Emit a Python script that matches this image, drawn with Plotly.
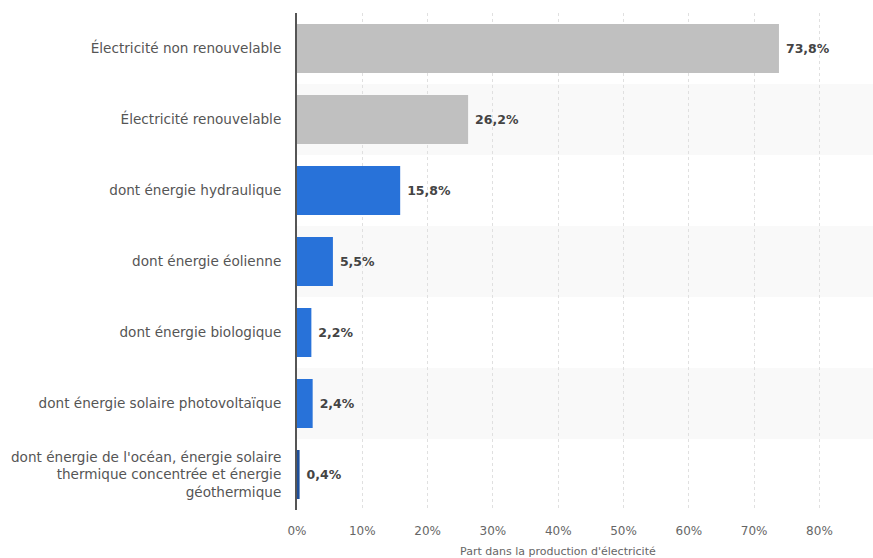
import plotly.graph_objects as go

# Share of electricity production by source
categories = [
    "Électricité non renouvelable",
    "Électricité renouvelable",
    "dont énergie hydraulique",
    "dont énergie éolienne",
    "dont énergie biologique",
    "dont énergie solaire photovoltaïque",
    "dont énergie de l'océan, énergie solaire<br>thermique concentrée et énergie<br>géothermique",
]
shares = [73.8, 26.2, 15.8, 5.5, 2.2, 2.4, 0.4]
bar_colors = ["#c0c0c0", "#c0c0c0", "#2872d9", "#2872d9", "#2872d9", "#2872d9", "#1f4f9a"]
x_ticks = [0, 10, 20, 30, 40, 50, 60, 70, 80]

FONT = "DejaVu Sans, sans-serif"

fig = go.Figure()
fig.add_trace(go.Bar(
    x=shares,
    y=list(range(len(categories))),
    orientation="h",
    marker=dict(color=bar_colors, line=dict(width=0)),
    width=0.69,
    texttemplate="&nbsp;<b>%{x:.1f}%</b>",
    textposition="outside",
    cliponaxis=False,
    textfont=dict(family=FONT, size=12.5, color="#444444"),
    hoverinfo="skip",
))

# alternating light row bands
shapes = []
for i in range(len(categories)):
    if i % 2 == 1:
        shapes.append(dict(
            type="rect", xref="x domain", yref="y",
            x0=0, x1=1, y0=i - 0.5, y1=i + 0.5,
            fillcolor="#f9f9f9", line=dict(width=0), layer="below",
        ))

fig.update_layout(
    width=873, height=558,
    margin=dict(l=297, r=0, t=13, b=48),
    paper_bgcolor="white",
    plot_bgcolor="rgba(0,0,0,0)",
    separators=", ",
    showlegend=False,
    shapes=shapes,
    font=dict(family=FONT, size=12, color="#555555"),
    xaxis=dict(
        range=[0, 88.2],
        tickvals=x_ticks,
        ticktext=[f"{v}%" for v in x_ticks],
        showgrid=True, gridcolor="#e0e0e0", griddash="dot", gridwidth=1,
        zeroline=False, showline=False,
        tickfont=dict(family=FONT, size=12, color="#666666"),
        ticklabelstandoff=12,
    ),
    yaxis=dict(
        range=[len(categories) - 0.5, -0.5],
        tickvals=list(range(len(categories))),
        ticktext=categories,
        showgrid=False, zeroline=False,
        showline=True, linecolor="#555555", linewidth=2,
        tickfont=dict(family=FONT, size=13.6, color="#555555"),
        ticklabelstandoff=11,
    ),
    annotations=[dict(
        text="Part dans la production d'électricité",
        xref="x", yref="paper", x=40, y=0, yshift=-41,
        showarrow=False, xanchor="center", yanchor="middle",
        font=dict(family=FONT, size=11, color="#666666"),
    )],
)

fig.write_html("out.html")
